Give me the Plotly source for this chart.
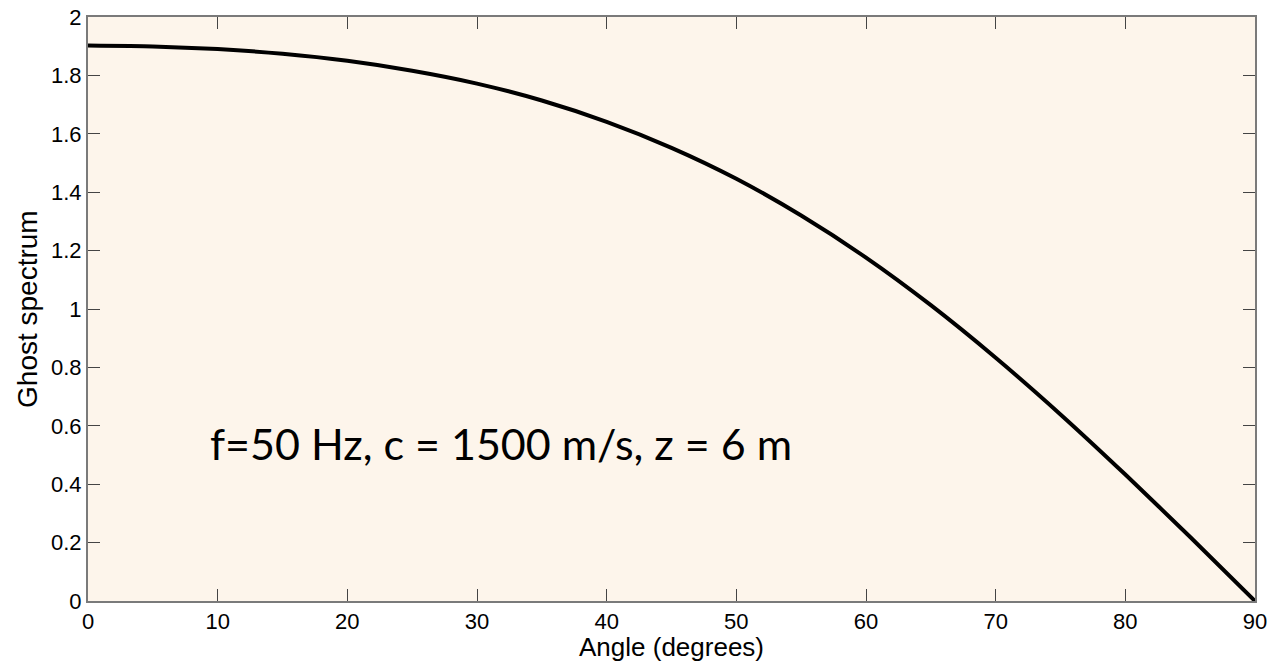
import plotly.graph_objects as go

angle_deg = [0, 5, 10, 15, 20, 25, 30, 35, 40, 45, 50, 55, 60, 65, 70, 75, 80, 85, 90]
ghost_spectrum = [1.902, 1.899, 1.890, 1.874, 1.850, 1.816, 1.772, 1.714, 1.641, 1.552,
                  1.446, 1.320, 1.176, 1.013, 0.833, 0.639, 0.433, 0.219, 0.0]
x_ticks = [0, 10, 20, 30, 40, 50, 60, 70, 80, 90]
y_ticks = [0, 0.2, 0.4, 0.6, 0.8, 1, 1.2, 1.4, 1.6, 1.8, 2]
y_tick_text = ["0", "0.2", "0.4", "0.6", "0.8", "1", "1.2", "1.4", "1.6", "1.8", "2"]

fig = go.Figure()
fig.add_trace(go.Scatter(x=angle_deg, y=ghost_spectrum, mode="lines",
                         line=dict(color="black", width=4, shape="spline", smoothing=0.6),
                         showlegend=False))

sans = "Liberation Sans, Arial"
axis_font = dict(family=sans, size=22, color="black")
fig.update_layout(
    width=1270, height=662,
    margin=dict(l=88, r=15, t=17, b=61, autoexpand=False),
    paper_bgcolor="white",
    plot_bgcolor="#FDF5EB",
    xaxis=dict(range=[0, 90], tickvals=x_ticks, ticks="inside", ticklen=12, tickcolor="#444",
               showline=True, linecolor="#7a7a7a", linewidth=2, mirror="ticks", showgrid=False,
               zeroline=False, tickfont=axis_font),
    yaxis=dict(range=[0, 2], tickvals=y_ticks, ticktext=y_tick_text, ticks="inside", ticklen=12,
               tickcolor="#444", showline=True, linecolor="#7a7a7a", linewidth=2, mirror="ticks",
               showgrid=False, zeroline=False, tickfont=axis_font),
    annotations=[
        dict(x=9.25, y=0.541, xref="x", yref="y", xanchor="left", yanchor="middle",
             text="f=50 Hz, c = 1500 m/s, z = 6 m", showarrow=False,
             font=dict(family="Lato, Open Sans", size=43, color="black")),
        dict(x=0.5, y=-0.0785, xref="paper", yref="paper", xanchor="center", yanchor="middle",
             text="Angle (degrees)", showarrow=False,
             font=dict(family=sans, size=26, color="black")),
        dict(x=-0.0523, y=0.5, xref="paper", yref="paper", xanchor="center", yanchor="middle",
             text="Ghost spectrum", showarrow=False, textangle=-90,
             font=dict(family=sans, size=28, color="black")),
    ],
)
fig.write_html("out.html")
